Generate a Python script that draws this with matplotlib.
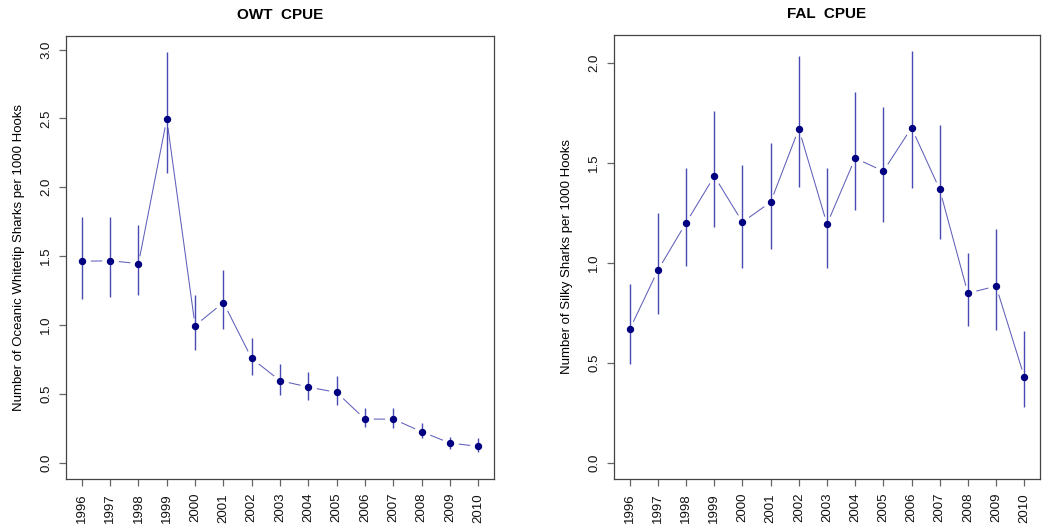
import matplotlib
matplotlib.use("Agg")
import matplotlib.pyplot as plt
import numpy as np

plt.rcParams['font.family'] = ['Liberation Sans', 'DejaVu Sans']

years = [1996, 1997, 1998, 1999, 2000, 2001, 2002, 2003, 2004, 2005, 2006, 2007, 2008, 2009, 2010]

owt_cpue = [1.463, 1.466, 1.446, 2.496, 0.995, 1.163, 0.757, 0.595, 0.549, 0.510, 0.316, 0.316, 0.225, 0.142, 0.118]
owt_upper = [1.785, 1.785, 1.729, 2.980, 1.214, 1.398, 0.902, 0.718, 0.655, 0.628, 0.394, 0.399, 0.285, 0.189, 0.176]
owt_lower = [1.190, 1.200, 1.216, 2.104, 0.817, 0.972, 0.636, 0.490, 0.454, 0.418, 0.258, 0.249, 0.176, 0.102, 0.075]

fal_cpue = [0.667, 0.963, 1.200, 1.433, 1.203, 1.303, 1.670, 1.193, 1.523, 1.458, 1.675, 1.367, 0.847, 0.883, 0.430]
fal_upper = [0.892, 1.247, 1.472, 1.757, 1.490, 1.600, 2.032, 1.472, 1.852, 1.778, 2.057, 1.687, 1.050, 1.170, 0.657]
fal_lower = [0.493, 0.743, 0.983, 1.177, 0.975, 1.070, 1.380, 0.975, 1.263, 1.203, 1.373, 1.117, 0.683, 0.663, 0.278]

panels = [
    dict(title="OWT  CPUE", ylabel="Number of Oceanic Whitetip Sharks per 1000 Hooks",
         y=owt_cpue, lo=owt_lower, hi=owt_upper, yticks=[0.0, 0.5, 1.0, 1.5, 2.0, 2.5, 3.0],
         rect=[66/1045, 50/529, 428/1045, 443/529]),
    dict(title="FAL  CPUE", ylabel="Number of Silky Sharks per 1000 Hooks",
         y=fal_cpue, lo=fal_lower, hi=fal_upper, yticks=[0.0, 0.5, 1.0, 1.5, 2.0],
         rect=[614/1045, 50/529, 426/1045, 444/529]),
]

fig = plt.figure(figsize=(10.45, 5.29), dpi=100)
line_col = '#5f5fba'
err_col = '#4a4ab5'
pt_col = '#000080'
axis_col = '#444444'

for p in panels:
    ax = fig.add_axes(p['rect'])
    x = np.array(years)
    ax.plot(x, p['y'], color=line_col, lw=0.75, zorder=1)
    ax.plot(x, p['y'], ls='none', marker='o', ms=11, mfc='white', mec='white', zorder=2)
    ax.vlines(x, p['lo'], p['hi'], color=err_col, lw=1.0, zorder=3)
    ax.plot(x, p['y'], ls='none', marker='o', ms=4.3, mfc=pt_col, mec=pt_col, zorder=4)

    ymax = max(p['hi'])
    ymin = 0.0
    r = ymax - ymin
    ax.set_ylim(ymin - 0.04 * r, ymax + 0.04 * r)
    ax.set_xlim(1996 - 0.04 * 14, 2010 + 0.04 * 14)
    ax.set_xticks(years)
    ax.set_xticklabels([str(v) for v in years], rotation=90, fontsize=9.5)
    ax.set_yticks(p['yticks'])
    ax.set_yticklabels([f"{v:.1f}" for v in p['yticks']], rotation=90, va='center', fontsize=9.5)
    ax.tick_params(axis='both', length=5, width=0.9, color='#666666', pad=5, labelcolor='#111111')
    for s in ax.spines.values():
        s.set_color(axis_col)
        s.set_linewidth(0.9)
    ax.set_title(p['title'], fontsize=11, fontweight='bold', pad=12)
    ax.set_ylabel(p['ylabel'], fontsize=9.5, labelpad=11)

fig.savefig("out.png", dpi=100)
